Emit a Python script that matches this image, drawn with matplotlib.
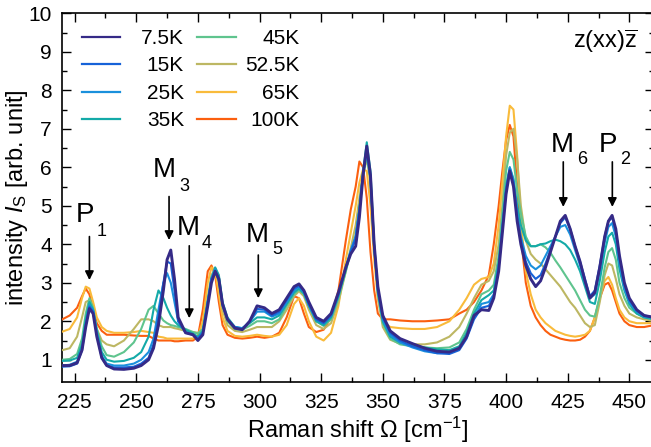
import numpy as np
import matplotlib
matplotlib.use("Agg")
from matplotlib import pyplot as plt

plt.rcParams['font.family'] = ['Liberation Sans', 'DejaVu Sans']
plt.rcParams['mathtext.fontset'] = 'custom'
plt.rcParams['mathtext.rm'] = 'Liberation Sans'
plt.rcParams['mathtext.it'] = 'Liberation Sans:italic'

# Raman shift grid [cm^-1]
shift = [220, 223, 226, 228, 229.5, 231, 232.5, 234, 236, 238,
         241, 245, 249, 252, 255, 257, 259, 261, 262.5, 264,
         265.5, 267, 270, 273, 275, 277, 279, 280.5, 282, 283.5,
         285, 287, 290, 293, 296, 299, 302, 305, 308, 311,
         314, 316, 318, 320, 323, 326, 329, 332, 335, 337,
         339, 340.5, 342, 343.5, 345, 346.5, 348, 350, 353, 357,
         362, 367, 372, 377, 381, 384, 387, 390, 393, 395,
         397, 398.5, 400, 401.5, 403, 404.5, 406, 408, 410, 412,
         414, 416, 418, 420, 422, 424, 426, 428, 430, 432,
         434, 436, 438, 440, 441.5, 443, 444.5, 446, 448, 450,
         453, 456, 460]

temps = ['7.5K', '15K', '25K', '35K', '45K', '52.5K', '65K', '100K']
colors = ['#352a87', '#1662d8', '#1a90dc', '#14aaa8',
          '#5fc48e', '#bdb763', '#f9bb3b', '#fb5f0f']

i_7p5K = [0.85, 0.85, 0.92, 1.25, 1.85, 2.33, 2.2, 1.6, 1.05, 0.85,
          0.76, 0.75, 0.78, 0.85, 1.0, 1.3, 1.9, 2.8, 3.6, 3.85,
          3.1, 2.1, 1.7, 1.65, 1.5, 1.65, 2.4, 3.0, 3.3, 3.1,
          2.45, 2.05, 1.82, 1.78, 2.0, 2.4, 2.35, 2.2, 2.3, 2.6,
          2.9, 2.97, 2.8, 2.5, 2.1, 2.0, 2.2, 2.75, 3.4, 3.75,
          3.95, 4.7, 5.8, 6.55, 5.8, 4.0, 2.9, 2.15, 1.75, 1.55,
          1.42, 1.3, 1.22, 1.2, 1.3, 1.6, 2.15, 2.3, 2.28, 2.6,
          3.3, 4.3, 5.3, 5.9, 5.5, 4.6, 4.0, 3.45, 3.1, 2.9,
          3.05, 3.4, 3.8, 4.2, 4.6, 4.75, 4.4, 3.95, 3.55, 3.05,
          2.6, 2.75, 3.4, 4.2, 4.6, 4.75, 4.4, 3.7, 3.0, 2.6,
          2.3, 2.15, 2.1]

i_15K = [0.82, 0.83, 0.9, 1.25, 1.9, 2.38, 2.25, 1.65, 1.05, 0.85,
         0.8, 0.8, 0.82, 0.9, 1.05, 1.4, 2.1, 3.0, 3.55, 3.5,
         2.8, 2.0, 1.7, 1.65, 1.55, 1.7, 2.5, 3.1, 3.3, 3.05,
         2.4, 2.05, 1.85, 1.8, 2.0, 2.32, 2.3, 2.15, 2.25, 2.55,
         2.85, 2.92, 2.78, 2.45, 2.05, 1.95, 2.15, 2.7, 3.4, 3.8,
         4.15, 4.9, 5.85, 6.5, 5.7, 3.9, 2.8, 2.1, 1.7, 1.5,
         1.35, 1.25, 1.17, 1.15, 1.25, 1.55, 2.05, 2.35, 2.4, 2.65,
         3.4, 4.4, 5.4, 5.95, 5.6, 4.7, 4.1, 3.55, 3.25, 3.1,
         3.2, 3.5, 3.85, 4.2, 4.55, 4.7, 4.4, 3.95, 3.55, 3.1,
         2.65, 2.8, 3.45, 4.2, 4.6, 4.7, 4.35, 3.65, 2.95, 2.55,
         2.28, 2.15, 2.1]

i_25K = [0.85, 0.87, 0.95, 1.3, 1.95, 2.42, 2.28, 1.7, 1.1, 0.9,
         0.85, 0.85, 0.9, 1.0, 1.2, 1.55, 2.3, 3.0, 3.25, 3.0,
         2.5, 2.0, 1.72, 1.65, 1.55, 1.72, 2.5, 3.1, 3.35, 3.1,
         2.45, 2.05, 1.85, 1.82, 1.98, 2.25, 2.25, 2.12, 2.2, 2.5,
         2.8, 2.9, 2.75, 2.42, 2.05, 1.95, 2.15, 2.7, 3.4, 3.85,
         4.2, 4.9, 5.8, 6.4, 5.7, 3.9, 2.8, 2.05, 1.65, 1.45,
         1.32, 1.22, 1.17, 1.18, 1.3, 1.6, 2.1, 2.45, 2.5, 2.7,
         3.45, 4.45, 5.45, 6.0, 5.65, 4.8, 4.2, 3.7, 3.45, 3.35,
         3.45, 3.7, 3.95, 4.2, 4.45, 4.5, 4.25, 3.85, 3.45, 3.0,
         2.6, 2.7, 3.3, 4.05, 4.45, 4.55, 4.2, 3.5, 2.85, 2.5,
         2.25, 2.12, 2.1]

i_35K = [0.97, 0.98, 1.05, 1.4, 2.05, 2.5, 2.3, 1.75, 1.2, 1.0,
         0.95, 0.97, 1.05, 1.2, 1.6, 2.3, 2.8, 2.6, 2.35, 2.15,
         2.0, 1.9, 1.78, 1.68, 1.6, 1.75, 2.5, 3.1, 3.4, 3.2,
         2.5, 2.1, 1.85, 1.82, 1.95, 2.1, 2.1, 2.05, 2.15, 2.45,
         2.75, 2.85, 2.72, 2.4, 2.0, 1.9, 2.1, 2.65, 3.35, 3.8,
         4.2, 4.9, 5.9, 6.65, 5.9, 4.0, 2.75, 2.0, 1.6, 1.45,
         1.38, 1.32, 1.27, 1.25, 1.35, 1.7, 2.2, 2.55, 2.68, 2.8,
         3.5, 4.5, 5.5, 6.0, 5.7, 5.0, 4.5, 4.1, 3.95, 3.95,
         4.0, 4.02, 4.08, 4.12, 4.08, 4.0, 3.85, 3.6, 3.3, 2.9,
         2.5, 2.45, 3.05, 3.8, 4.2, 4.3, 4.0, 3.35, 2.8, 2.45,
         2.2, 2.1, 2.05]

i_45K = [1.0, 1.02, 1.15, 1.55, 2.2, 2.6, 2.35, 1.8, 1.35, 1.12,
         1.08, 1.2, 1.45, 1.8, 2.3, 2.4, 2.2, 2.02, 1.95, 1.9,
         1.88, 1.85, 1.8, 1.72, 1.68, 1.8, 2.55, 3.15, 3.38, 3.15,
         2.45, 2.0, 1.8, 1.78, 1.88, 2.0, 2.0, 1.95, 2.05, 2.4,
         2.7, 2.82, 2.7, 2.4, 2.0, 1.88, 2.05, 2.6, 3.3, 3.8,
         4.2, 4.9, 5.8, 6.3, 5.7, 4.0, 2.75, 1.95, 1.55, 1.4,
         1.35, 1.32, 1.3, 1.32, 1.45, 1.8, 2.3, 2.7, 2.8, 2.95,
         3.7, 4.8, 5.9, 6.4, 6.2, 5.4, 4.8, 4.2, 3.95, 3.95,
         4.0, 3.92, 3.78, 3.58, 3.4, 3.2, 3.0, 2.8, 2.55, 2.3,
         2.15, 2.12, 2.65, 3.4, 3.8, 3.9, 3.6, 3.0, 2.6, 2.35,
         2.2, 2.1, 2.05]

i_52p5K = [1.25, 1.3, 1.6, 2.1, 2.5, 2.55, 2.2, 1.8, 1.5, 1.4,
           1.35, 1.5, 1.8, 2.05, 2.05, 2.0, 1.9, 1.85, 1.85, 1.85,
           1.82, 1.8, 1.75, 1.72, 1.7, 1.8, 2.6, 3.2, 3.35, 3.0,
           2.3, 1.9, 1.75, 1.72, 1.78, 1.85, 1.85, 1.85, 2.0, 2.3,
           2.65, 2.78, 2.65, 2.3, 1.9, 1.8, 1.95, 2.5, 3.3, 3.9,
           4.5, 5.2, 5.9, 6.2, 5.6, 3.9, 2.6, 1.85, 1.52, 1.42,
           1.4, 1.4, 1.45, 1.6, 1.85, 2.2, 2.6, 2.95, 3.05, 3.3,
           4.0, 5.0, 6.3, 6.9, 7.0, 6.2, 5.0, 4.1, 3.75, 3.6,
           3.5, 3.35, 3.2, 3.05, 2.9, 2.7, 2.5, 2.35, 2.15, 1.95,
           1.85, 1.9, 2.5, 3.2, 3.5, 3.45, 3.1, 2.7, 2.4, 2.2,
           2.1, 2.05, 2.0]

i_65K = [1.73, 1.8, 2.1, 2.6, 2.9, 2.85, 2.5, 2.1, 1.85, 1.75,
         1.7, 1.7, 1.72, 1.75, 1.72, 1.7, 1.6, 1.58, 1.55, 1.55,
         1.55, 1.55, 1.55, 1.55, 1.6, 2.0, 3.0, 3.4, 3.3, 2.7,
         2.1, 1.75, 1.62, 1.6, 1.62, 1.65, 1.62, 1.6, 1.65, 1.9,
         2.45, 2.6, 2.4, 2.0, 1.6, 1.5, 1.7, 2.4, 3.6, 4.3,
         5.0, 5.6, 5.95, 5.9, 5.0, 3.6, 2.6, 2.0, 1.85, 1.82,
         1.8, 1.8, 1.85, 2.0, 2.3, 2.6, 2.95, 3.1, 3.15, 3.5,
         4.5, 5.6, 6.8, 7.6, 7.5, 6.3, 4.6, 3.3, 2.7, 2.3,
         2.1, 1.95, 1.85, 1.75, 1.7, 1.65, 1.62, 1.6, 1.62, 1.65,
         1.75, 2.1, 2.6, 3.05, 3.15, 2.95, 2.6, 2.3, 2.1, 2.0,
         1.95, 1.95, 1.95]

i_100K = [2.05, 2.15, 2.35, 2.65, 2.85, 2.7, 2.3, 1.95, 1.75, 1.65,
          1.65, 1.65, 1.63, 1.62, 1.62, 1.55, 1.5, 1.5, 1.5, 1.5,
          1.48, 1.48, 1.5, 1.5, 1.6, 2.3, 3.3, 3.45, 3.2, 2.5,
          1.9, 1.65, 1.57, 1.55, 1.57, 1.6, 1.57, 1.6, 1.7, 2.1,
          2.65, 2.6, 2.2, 1.85, 1.72, 1.78, 2.1, 2.8, 4.1, 4.9,
          5.5, 6.15, 6.0, 5.2, 3.8, 2.8, 2.2, 2.05, 2.05, 2.02,
          2.0, 2.0, 2.02, 2.05, 2.2, 2.3, 2.5, 2.8, 3.2, 4.0,
          5.0, 5.9, 6.7, 7.1, 6.8, 5.5, 4.2, 3.0, 2.4, 2.1,
          1.9, 1.75, 1.65, 1.6, 1.55, 1.52, 1.5, 1.5, 1.52, 1.6,
          1.75, 2.1, 2.6, 2.95, 3.0, 2.8, 2.5, 2.2, 2.0, 1.9,
          1.85, 1.85, 1.9]

spectra = [i_7p5K, i_15K, i_25K, i_35K, i_45K, i_52p5K, i_65K, i_100K]

# mode labels: (main, sub, arrow x, arrow top, arrow tip)
modes = [('P', '1', 231.0, 4.20, 3.07),
         ('M', '3', 263.3, 5.24, 4.11),
         ('M', '4', 271.5, 3.96, 2.08),
         ('M', '5', 299.5, 3.72, 2.60),
         ('M', '6', 423.2, 6.14, 4.97),
         ('P', '2', 443.1, 6.14, 4.97)]
# label placement (text x, baseline y, sub x, sub baseline y)
mode_pos = [(225.6, 4.58, 236.1, 4.21),
            (256.8, 5.75, 269.4, 5.38),
            (266.5, 4.24, 278.7, 3.90),
            (294.5, 4.06, 307.1, 3.75),
            (418.2, 6.40, 430.8, 6.08),
            (437.7, 6.40, 448.3, 6.08)]

W, H = 651, 447
fig = plt.figure(figsize=(W / 100, H / 100), dpi=100)
ax = fig.add_axes([62.3 / W, 1 - 381.7 / H, (654 - 62.3) / W, (381.7 - 13.3) / H])

x = np.array(shift)
for k in range(len(temps) - 1, -1, -1):
    lw = 2.1 if k == 0 else 1.5
    ax.plot(x, spectra[k], color=colors[k], lw=lw, zorder=3 + (len(temps) - k))

ax.set_xlim(220, 460)
ax.set_ylim(0.43, 10)
ax.set_xticks(np.arange(225, 451, 25))
ax.set_xticks(np.arange(237.5, 460, 25), minor=True)
ax.set_yticks(np.arange(1, 11, 1))
ax.set_yticks(np.arange(1.5, 10, 1), minor=True)
ax.tick_params(which='both', direction='in', top=True, right=True, width=1.0)
ax.tick_params(which='major', length=6.5, labelsize=15)
ax.tick_params(which='minor', length=3.5)
ax.tick_params(axis='y', pad=7.5)
ax.tick_params(axis='x', pad=8)
for s in ax.spines.values():
    s.set_linewidth(1.2)

def ax_fx(px):
    return (px - 62.3) / (654 - 62.3)
def ax_fy(py):
    return (381.7 - py) / (381.7 - 13.3)

ax.set_xlabel(r'Raman shift $\Omega$ [cm$^{-1}$]', fontsize=17, labelpad=2)
ax.set_ylabel(r'intensity $\mathit{I}_\mathrm{S}$ [arb. unit]', fontsize=17)
ax.yaxis.set_label_coords(ax_fx(30), 0.5)

# legend, two columns with right-aligned labels
row_y = [44.5, 71.2, 98.9, 126.5]
cols = [(81.7, 120.0, 184.0), (197.3, 235.7, 299.3)]
for k, lab in enumerate(temps):
    c, r = divmod(k, 4)
    x0, x1, xt = cols[c]
    yc = ax_fy(row_y[r] - 7.2)
    ax.plot([ax_fx(x0), ax_fx(x1)], [yc, yc], color=colors[k], lw=1.6,
            transform=ax.transAxes, clip_on=False)
    ax.text(ax_fx(xt), ax_fy(row_y[r]), lab, ha='right', va='baseline',
            fontsize=15, transform=ax.transAxes)

ax.text(ax_fx(638), ax_fy(48), r'z(xx)$\overline{\mathrm{z}}$', ha='right',
        va='baseline', fontsize=17, transform=ax.transAxes)

for (main, sub, xa, y0, y1), (tx, ty, sx, sy) in zip(modes, mode_pos):
    ax.annotate('', xy=(xa, y1), xytext=(xa, y0),
                arrowprops=dict(arrowstyle='-|>', color='black', lw=1.2,
                                mutation_scale=13, shrinkA=0, shrinkB=0),
                zorder=20)
    ax.text(tx, ty, main, fontsize=20, ha='left', va='baseline', zorder=20)
    ax.text(sx, sy, sub, fontsize=13, ha='center', va='baseline', zorder=20)

fig.savefig('out.png', dpi=100)
